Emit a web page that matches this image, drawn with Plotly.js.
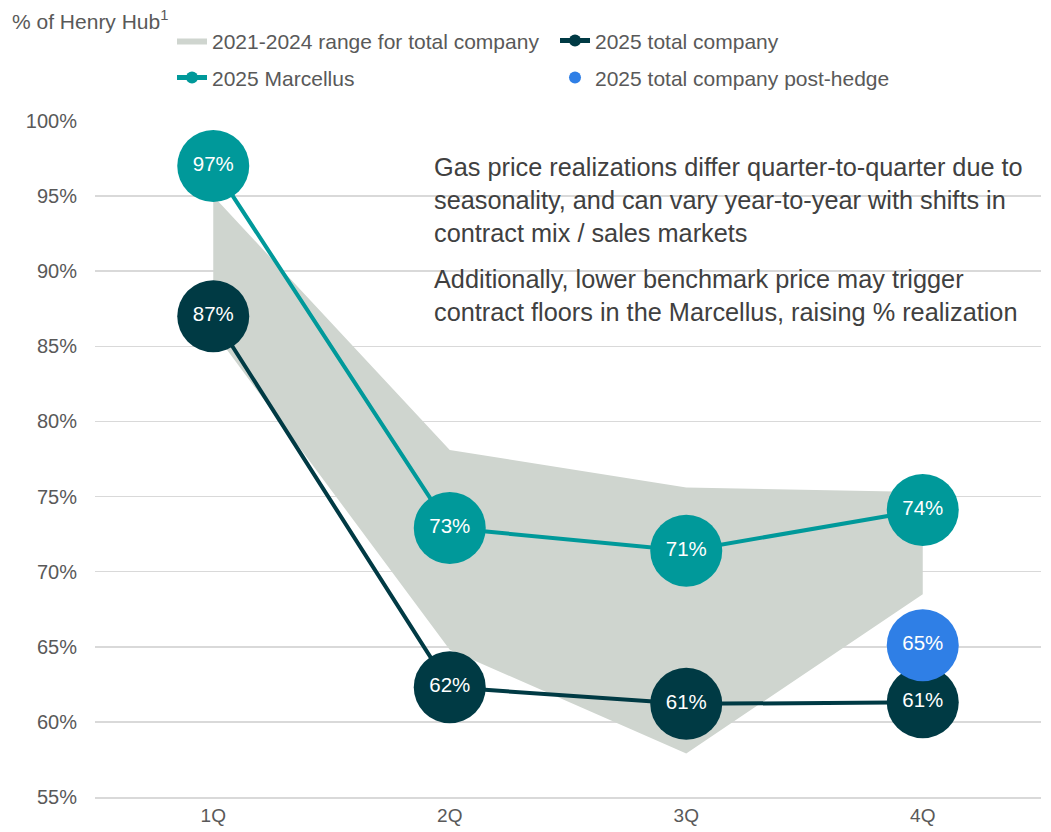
<!DOCTYPE html>
<html>
<head>
<meta charset="utf-8">
<script src="https://cdn.plot.ly/plotly-3.0.1.min.js"></script>
<style>html,body{margin:0;padding:0;background:#fff;}#chart{width:1051px;height:832px;}</style>
</head>
<body>
<div id="chart"></div>
<script>
const quarters = ["1Q", "2Q", "3Q", "4Q"];
const rangeUpper = [95, 78.1, 75.6, 75.3];
const rangeLower = [86, 64.8, 57.9, 68.5];
const totalCompany = [87, 62.3, 61.2, 61.3];
const marcellus = [97, 72.9, 71.4, 74.1];
const postHedgeQuarter = ["4Q"];
const postHedge = [65.1];
const yTicks = [55, 60, 65, 70, 75, 80, 85, 90, 95, 100];

const fmt = v => Math.round(v) + "%";
const FONT = "'Liberation Sans', Arial, sans-serif";
const labelFont = {family: FONT, size: 20.5, color: "#ffffff"};

const traces = [
  {
    name: "2021-2024 range for total company",
    legend: "legend",
    x: quarters.concat(quarters.slice().reverse()),
    y: rangeUpper.concat(rangeLower.slice().reverse()),
    type: "scatter", mode: "lines", fill: "toself",
    fillcolor: "#cfd5cf", line: {width: 0, color: "#cfd5cf"},
    hoverinfo: "skip"
  },
  {
    name: "2025 total company",
    legend: "legend",
    x: quarters, y: totalCompany,
    type: "scatter", mode: "lines+markers+text",
    line: {color: "#003a44", width: 4},
    marker: {color: "#003a44", size: 72},
    text: totalCompany.map(fmt), textposition: "middle center",
    textfont: labelFont
  },
  {
    name: "2025 Marcellus",
    legend: "legend2",
    x: quarters, y: marcellus,
    type: "scatter", mode: "lines+markers+text",
    line: {color: "#00999a", width: 4},
    marker: {color: "#00999a", size: 72},
    text: marcellus.map(fmt), textposition: "middle center",
    textfont: labelFont
  },
  {
    name: "2025 total company post-hedge",
    legend: "legend2",
    x: postHedgeQuarter, y: postHedge,
    type: "scatter", mode: "markers+text",
    marker: {color: "#2f7fe6", size: 72},
    text: postHedge.map(fmt), textposition: "middle center",
    textfont: labelFont
  }
];

const legendCommon = {
  orientation: "h", xanchor: "left", yanchor: "middle",
  entrywidth: 338, entrywidthmode: "pixels",
  font: {family: FONT, size: 21, color: "#595959"},
  traceorder: "normal", itemsizing: "constant", tracegroupgap: 0,
  bgcolor: "rgba(0,0,0,0)"
};

const layout = {
  width: 1051, height: 832,
  margin: {l: 95, r: 10, t: 121, b: 35},
  paper_bgcolor: "#ffffff", plot_bgcolor: "#ffffff",
  font: {family: FONT, color: "#595959", size: 20},
  showlegend: true,
  legend: Object.assign({}, legendCommon, {x: 0.0814, y: 1.1185}),
  legend2: Object.assign({}, legendCommon, {x: 0.0814, y: 1.0637}),
  xaxis: {
    type: "category", categoryarray: quarters, range: [-0.5, 3.5],
    showgrid: false, showline: true, linecolor: "#d9d9d9", linewidth: 1.5,
    ticks: "", ticklabelstandoff: 1,
    tickfont: {family: FONT, size: 19, color: "#595959"}, fixedrange: true
  },
  yaxis: {
    range: [55, 100], tickvals: yTicks, ticktext: yTicks.map(v => v + "%"),
    showgrid: true, gridcolor: "#d9d9d9", gridwidth: 1.5,
    zeroline: false, showline: false, ticks: "",
    ticklabelstandoff: 17,
    tickfont: {family: FONT, size: 20, color: "#595959"}, fixedrange: true
  },
  annotations: [
    {
      xref: "paper", yref: "paper", x: -0.0899, y: 1.1496, xanchor: "left", yanchor: "middle",
      text: "% of Henry Hub<sup>1</sup>", showarrow: false, align: "left",
      font: {family: FONT, size: 21, color: "#595959"}
    },
    {
      xref: "x", yref: "y", x: 0.925, y: 98.0, xanchor: "left", yanchor: "top",
      text: "Gas price realizations differ quarter-to-quarter due to<br>seasonality, and can vary year-to-year with shifts in<br>contract mix / sales markets",
      showarrow: false, align: "left",
      font: {family: FONT, size: 25.3, color: "#404040"}
    },
    {
      xref: "x", yref: "y", x: 0.925, y: 90.55, xanchor: "left", yanchor: "top",
      text: "Additionally, lower benchmark price may trigger<br>contract floors in the Marcellus, raising % realization",
      showarrow: false, align: "left",
      font: {family: FONT, size: 25.3, color: "#404040"}
    }
  ]
};

Plotly.newPlot("chart", traces, layout, {displayModeBar: false, staticPlot: true});
</script>
</body>
</html>
